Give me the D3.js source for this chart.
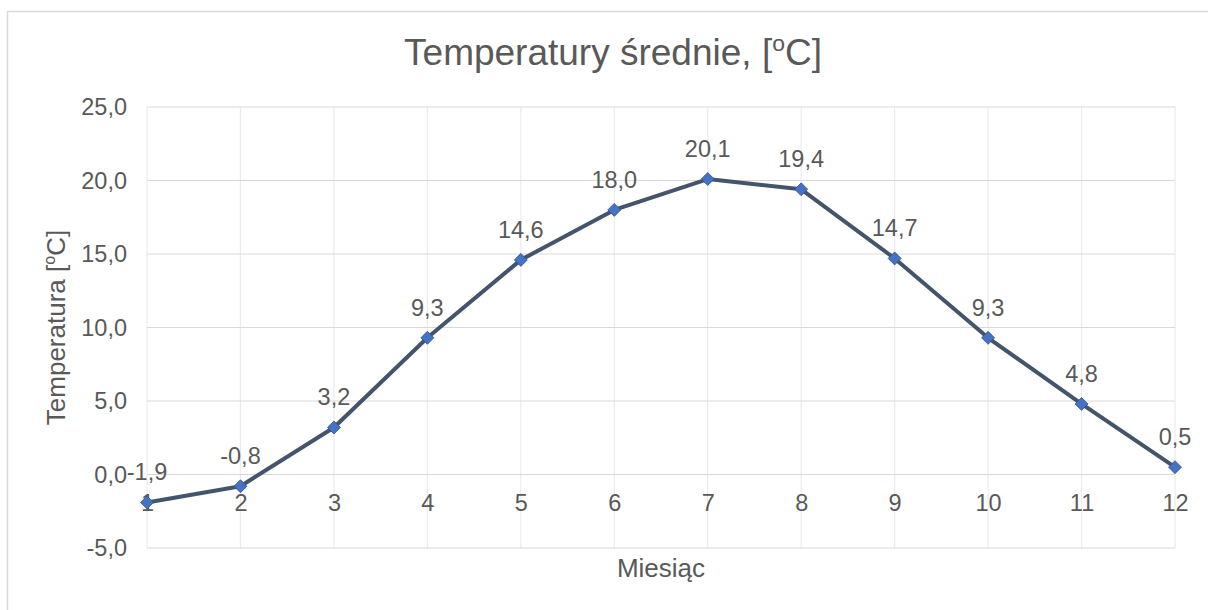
<!DOCTYPE html>
<html>
<head>
<meta charset="utf-8">
<script src="https://cdn.jsdelivr.net/npm/d3@7"></script>
<style>
  body { margin: 0; background: #fff; }
  text { font-family: "Liberation Sans", Arial, sans-serif; fill: #595959; }
</style>
</head>
<body>
<svg id="chart" width="1208" height="610"></svg>
<script>
// data
var months = [1, 2, 3, 4, 5, 6, 7, 8, 9, 10, 11, 12];
var temps = [-1.9, -0.8, 3.2, 9.3, 14.6, 18.0, 20.1, 19.4, 14.7, 9.3, 4.8, 0.5];
var yTicks = [-5, 0, 5, 10, 15, 20, 25];

var svg = d3.select("#chart");
var fmt = function(v) { return v.toFixed(1).replace(".", ","); };

// text with superscript "o" for degrees: before [o] after
function degText(sel, before, after, size) {
  sel.style("font-size", size + "px");
  sel.append("tspan").text(before);
  sel.append("tspan")
    .attr("dy", -size * 0.38)
    .style("font-size", (size * 0.62) + "px")
    .text("o");
  sel.append("tspan")
    .attr("dy", size * 0.38)
    .text(after);
}

// chart frame
svg.append("rect")
  .attr("x", 7.5).attr("y", 11.5)
  .attr("width", 1220).attr("height", 620)
  .attr("fill", "#fff")
  .attr("stroke", "#d9d9d9")
  .attr("stroke-width", 1.5);

var x = d3.scaleLinear().domain([1, 12]).range([147, 1175]);
var y = d3.scaleLinear().domain([-5, 25]).range([548, 107]);

// gridlines
svg.append("g").selectAll("line")
  .data(months)
  .enter().append("line")
  .attr("x1", function(d) { return x(d); })
  .attr("x2", function(d) { return x(d); })
  .attr("y1", y(25)).attr("y2", y(-5))
  .attr("stroke", "#ebebeb")
  .attr("stroke-width", 1.2);

svg.append("g").selectAll("line")
  .data(yTicks)
  .enter().append("line")
  .attr("x1", x(1)).attr("x2", x(12))
  .attr("y1", function(d) { return y(d); })
  .attr("y2", function(d) { return y(d); })
  .attr("stroke", "#d9d9d9")
  .attr("stroke-width", 1.2);

// y axis labels
var yAxis = d3.axisLeft(y).tickValues(yTicks).tickSize(0).tickPadding(20).tickFormat(fmt);
var gy = svg.append("g").attr("transform", "translate(" + x(1) + ",0)").call(yAxis);
gy.select(".domain").remove();
gy.selectAll("text")
  .style("font-family", "Liberation Sans, Arial, sans-serif")
  .style("font-size", "23.5px")
  .attr("fill", "#595959");

// x axis labels crossing at 0
var xAxis = d3.axisBottom(x).tickValues(months).tickSize(0).tickPadding(20).tickFormat(d3.format("d"));
var gx = svg.append("g").attr("transform", "translate(0," + y(0) + ")").call(xAxis);
gx.select(".domain").remove();
gx.selectAll("text")
  .style("font-family", "Liberation Sans, Arial, sans-serif")
  .style("font-size", "23.5px")
  .attr("fill", "#595959");

// line
var line = d3.line()
  .x(function(d, i) { return x(months[i]); })
  .y(function(d) { return y(d); });

svg.append("path")
  .datum(temps)
  .attr("d", line)
  .attr("fill", "none")
  .attr("stroke", "#44546a")
  .attr("stroke-width", 4)
  .attr("stroke-linejoin", "round");

// markers
svg.append("g").selectAll("path")
  .data(temps)
  .enter().append("path")
  .attr("d", "M0,-6.5L6.5,0L0,6.5L-6.5,0Z")
  .attr("transform", function(d, i) { return "translate(" + x(months[i]) + "," + y(d) + ")"; })
  .attr("fill", "#4472c4")
  .attr("stroke", "#2f528f")
  .attr("stroke-width", 0.8);

// data labels
svg.append("g").selectAll("text")
  .data(temps)
  .enter().append("text")
  .attr("x", function(d, i) { return x(months[i]); })
  .attr("y", function(d) { return y(d) - 22; })
  .attr("text-anchor", "middle")
  .style("font-size", "23.5px")
  .text(fmt);

// titles
svg.append("text")
  .attr("x", 613).attr("y", 65)
  .attr("text-anchor", "middle")
  .call(degText, "Temperatury średnie, [", "C]", 37);

svg.append("text")
  .attr("transform", "translate(65," + ((y(25) + y(-5)) / 2) + ") rotate(-90)")
  .attr("text-anchor", "middle")
  .call(degText, "Temperatura [", "C]", 26);

svg.append("text")
  .attr("x", (x(1) + x(12)) / 2).attr("y", 577)
  .attr("text-anchor", "middle")
  .style("font-size", "26px")
  .text("Miesiąc");
</script>
</body>
</html>
